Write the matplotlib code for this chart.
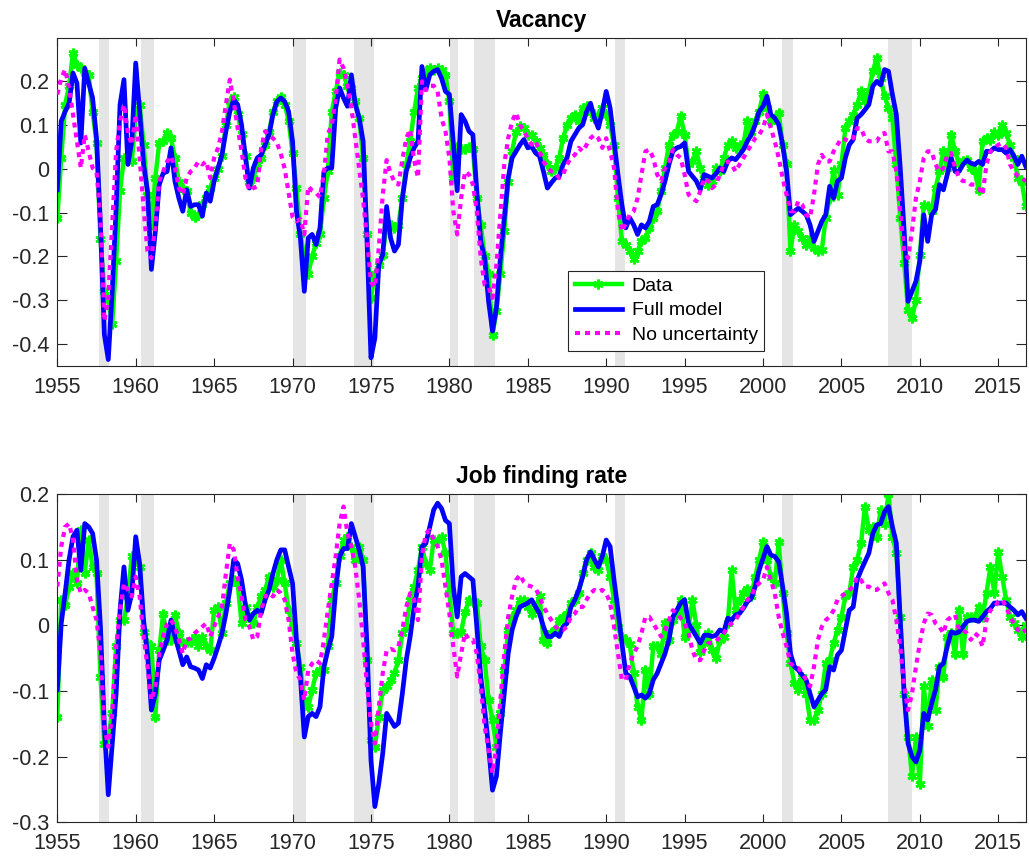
"""Vacancy and job finding rate: data vs model simulations."""
import matplotlib
matplotlib.use("Agg")
import matplotlib.pyplot as plt
import numpy as np

plt.rcParams["font.family"] = ["Liberation Sans", "DejaVu Sans"]
plt.rcParams["axes.unicode_minus"] = False

# quarterly sample, 1955Q1 - 2016Q4
start_year = 1955
n_quarters = 248

# NBER recession bands (decimal years)
recessions = [(1957.68, 1958.30), (1960.34, 1961.15), (1970.0, 1970.88),
              (1973.93, 1975.2), (1980.04, 1980.55), (1981.57, 1982.89),
              (1990.57, 1991.21), (2001.24, 2001.88), (2007.98, 2009.47)]

# ---- Vacancy (one row per year, four quarters) ----
vac_data = [
    -0.112, 0.025, 0.147, 0.19,   # 1955
    0.265, 0.238, 0.23, 0.22,
    0.215, 0.13, 0.06, -0.16,
    -0.28, -0.30, -0.355, -0.21,
    -0.05, 0.025, 0.02, 0.017,
    0.12, 0.147, 0.055, -0.06,    # 1960
    -0.128, -0.02, 0.06, 0.063,
    0.082, 0.07, 0.025, -0.03,
    -0.045, -0.05, -0.10, -0.11,
    -0.105, -0.08, -0.067, -0.044,
    -0.02, 0.0, 0.03, 0.10,       # 1965
    0.155, 0.165, 0.125, 0.08,
    0.03, -0.03, -0.02, 0.01,
    0.025, 0.055, 0.085, 0.13,
    0.155, 0.165, 0.147, 0.11,
    0.036, -0.044, -0.15, -0.20,  # 1970
    -0.24, -0.20, -0.17, -0.15,
    -0.066, -0.005, 0.13, 0.177,
    0.22, 0.215, 0.19, 0.185,
    0.154, 0.116, 0.025, -0.15,
    -0.295, -0.24, -0.22, -0.196,  # 1975
    -0.128, -0.128, -0.135, -0.128,
    -0.067, 0.01, 0.063, 0.13,
    0.185, 0.207, 0.223, 0.23,
    0.227, 0.23, 0.227, 0.215,
    0.154, -0.02, 0.05, 0.045,    # 1980
    0.045, 0.05, 0.045, -0.067,
    -0.128, -0.20, -0.24, -0.38,
    -0.325, -0.24, -0.143, -0.03,
    0.04, 0.085, 0.097, 0.093,
    0.078, 0.078, 0.063, 0.048,   # 1985
    0.032, 0.01, -0.005, 0.002,
    0.025, 0.07, 0.10, 0.116,
    0.124, 0.109, 0.139, 0.143,
    0.131, 0.116, 0.124, 0.139,
    0.124, 0.10, 0.055, -0.067,   # 1990
    -0.166, -0.173, -0.188, -0.207,
    -0.188, -0.166, -0.158, -0.135,
    -0.112, -0.097, -0.051, 0.002,
    0.055, 0.078, 0.085, 0.12,
    0.078, 0.01, 0.017, 0.04,     # 1995
    0.002, -0.02, -0.036, -0.028,
    0.002, -0.006, 0.025, 0.055,
    0.063, 0.048, 0.055, 0.055,
    0.11, 0.085, 0.109, 0.131,
    0.17, 0.139, 0.109, 0.116,    # 2000
    0.128, 0.055, 0.01, -0.188,
    -0.128, -0.143, -0.158, -0.173,
    -0.158, -0.18, -0.188, -0.185,
    -0.112, -0.067, -0.002, -0.06,
    0.01, 0.093, 0.109, 0.124,    # 2005
    0.147, 0.177, 0.154, 0.177,
    0.223, 0.253, 0.207, 0.166,
    0.139, 0.116, 0.01, -0.112,
    -0.215, -0.322, -0.341, -0.30,
    -0.196, -0.082, -0.085, -0.097,  # 2010
    -0.044, -0.006, 0.04, 0.002,
    0.078, 0.04, 0.01, 0.017,
    0.02, 0.002, -0.006, -0.048,
    0.063, 0.07, 0.067, 0.085,
    0.078, 0.10, 0.082, 0.055,    # 2015
    0.025, -0.02, -0.03, -0.086,
]

vac_full = [
    -0.048, 0.109, 0.131, 0.15,   # 1955
    0.219, 0.196, 0.059, 0.23,
    0.196, 0.162, 0.07, -0.128,
    -0.379, -0.436, -0.28, -0.09,
    0.147, 0.204, 0.01, 0.063,
    0.242, 0.131, 0.01, -0.051,   # 1960
    -0.23, -0.143, -0.036, -0.01,
    -0.006, 0.048, -0.028, -0.067,
    -0.097, -0.048, -0.086, -0.082,
    -0.082, -0.108, -0.055, -0.074,
    -0.028, 0.002, 0.032, 0.086,  # 1965
    0.131, 0.158, 0.147, 0.10,
    0.025, -0.044, 0.002, 0.025,
    0.032, 0.055, 0.078, 0.124,
    0.154, 0.162, 0.154, 0.131,
    0.063, -0.097, -0.158, -0.28,  # 1970
    -0.158, -0.15, -0.173, -0.135,
    -0.006, 0.002, 0.002, 0.139,
    0.185, 0.162, 0.143, 0.215,
    0.147, 0.116, 0.063, -0.166,
    -0.432, -0.387, -0.219, -0.196,  # 1975
    -0.086, -0.158, -0.188, -0.173,
    -0.067, -0.006, 0.025, 0.048,
    0.063, 0.234, 0.181, 0.215,
    0.223, 0.227, 0.207, 0.177,
    0.17, 0.06, -0.05, 0.124,     # 1980
    0.109, 0.086, 0.078, -0.051,
    -0.166, -0.204, -0.303, -0.371,
    -0.318, -0.204, -0.112, -0.021,
    0.025, 0.04, 0.055, 0.067,
    0.048, 0.051, 0.036, 0.029,   # 1985
    -0.006, -0.044, -0.032, -0.021,
    -0.017, 0.01, 0.025, 0.063,
    0.078, 0.093, 0.101, 0.131,
    0.15, 0.116, 0.093, 0.131,
    0.177, 0.139, 0.063, -0.013,  # 1990
    -0.082, -0.135, -0.112, -0.128,
    -0.15, -0.128, -0.135, -0.12,
    -0.086, -0.082, -0.059, -0.028,
    0.01, 0.04, 0.048, 0.051,
    0.059, -0.006, -0.017, -0.028,  # 1995
    -0.048, -0.013, -0.017, -0.021,
    -0.011, 0.002, -0.006, 0.017,
    0.025, 0.021, 0.032, 0.044,
    0.063, 0.078, 0.101, 0.131,
    0.143, 0.166, 0.124, 0.116,   # 2000
    0.101, 0.055, -0.006, -0.105,
    -0.097, -0.09, -0.097, -0.105,
    -0.128, -0.166, -0.143, -0.12,
    -0.105, -0.04, -0.067, -0.028,
    -0.021, 0.025, 0.055, 0.067,  # 2005
    0.116, 0.124, 0.135, 0.147,
    0.189, 0.20, 0.192, 0.227,
    0.223, 0.17, 0.124, 0.002,
    -0.143, -0.303, -0.28, -0.257,
    -0.211, -0.105, -0.166, -0.105,  # 2010
    -0.093, -0.036, -0.048, -0.013,
    0.025, -0.006, -0.006, 0.01,
    0.02, 0.013, 0.01, 0.017,
    0.01, 0.04, 0.04, 0.048,
    0.044, 0.044, 0.036, 0.044,   # 2015
    0.029, 0.01, 0.029, 0.006,
]

vac_nounc = [
    0.17, 0.207, 0.227, 0.185,    # 1955
    0.124, 0.063, 0.002, 0.078,
    0.04, 0.002, -0.006, -0.112,
    -0.348, -0.295, -0.128, 0.04,
    0.109, 0.147, 0.082, 0.055,
    0.124, 0.025, -0.09, -0.188,  # 1960
    -0.204, -0.128, -0.028, -0.006,
    0.017, 0.029, 0.002, -0.044,
    -0.059, -0.021, -0.006, 0.002,
    0.017, 0.01, 0.017, -0.021,
    0.025, 0.048, 0.086, 0.147,   # 1965
    0.204, 0.154, 0.093, 0.04,
    -0.021, -0.05, -0.044, -0.04,
    0.048, 0.086, 0.075, 0.07,
    0.06, 0.035, 0.0, -0.055,
    -0.11, -0.12, -0.115, -0.15,  # 1970
    -0.04, -0.05, -0.055, -0.065,
    -0.01, 0.08, 0.10, 0.16,
    0.25, 0.23, 0.19, 0.14,
    0.07, 0.0, -0.07, -0.16,
    -0.26, -0.27, -0.18, -0.06,   # 1975
    0.02, -0.01, -0.03, -0.036,
    0.02, 0.07, 0.09, 0.02,
    -0.02, 0.20, 0.18, 0.19,
    0.19, 0.177, 0.116, 0.086,
    0.025, -0.097, -0.15, -0.067,  # 1980
    -0.006, -0.013, -0.036, -0.097,
    -0.204, -0.265, -0.27, -0.295,
    -0.219, -0.105, 0.01, 0.07,
    0.109, 0.128, 0.101, 0.086,
    0.07, 0.055, 0.063, 0.04,     # 1985
    0.017, 0.002, -0.006, -0.01,
    -0.021, -0.013, 0.01, 0.025,
    0.032, 0.048, 0.04, 0.055,
    0.07, 0.078, 0.07, 0.048,
    0.07, 0.04, 0.002, -0.097,    # 1990
    -0.143, -0.124, -0.105, -0.097,
    -0.067, -0.013, 0.04, 0.044,
    0.025, -0.013, -0.028, 0.002,
    0.017, 0.044, 0.032, 0.025,
    -0.013, -0.059, -0.067, -0.074,  # 1995
    -0.051, -0.021, -0.028, -0.044,
    -0.036, -0.013, 0.01, 0.017,
    0.01, -0.006, 0.01, 0.025,
    0.04, 0.055, 0.07, 0.078,
    0.093, 0.124, 0.093, 0.063,   # 2000
    0.025, -0.021, -0.059, -0.097,
    -0.097, -0.074, -0.082, -0.105,
    -0.112, -0.059, 0.01, 0.032,
    0.017, 0.017, 0.04, 0.055,
    0.07, 0.067, 0.063, 0.07,     # 2005
    0.093, 0.093, 0.07, 0.063,
    0.063, 0.063, 0.078, 0.082,
    0.04, 0.04, -0.006, -0.097,
    -0.188, -0.204, -0.143, -0.067,
    -0.028, 0.025, 0.04, 0.04,    # 2010
    0.01, -0.006, 0.002, 0.032,
    0.036, 0.002, -0.021, -0.028,
    -0.028, -0.036, -0.036, -0.044,
    -0.059, 0.01, 0.04, 0.048,
    0.055, 0.059, 0.048, 0.01,    # 2015
    -0.006, -0.017, -0.021, -0.028,
]

# ---- Job finding rate ----
jf_data = [
    -0.139, 0.039, 0.031, 0.059,  # 1955
    0.079, 0.065, 0.145, 0.08,
    0.13, 0.089, 0.079, -0.078,
    -0.18, -0.17, -0.134, -0.032,
    0.008, 0.008, 0.044, 0.105,
    0.10, 0.089, -0.01, -0.027,   # 1960
    -0.032, -0.139, -0.038, 0.018,
    -0.022, -0.022, 0.016, -0.012,
    -0.027, -0.025, -0.025, -0.017,
    -0.032, -0.017, -0.032, -0.038,
    0.023, 0.028, -0.012, 0.034,  # 1965
    0.064, 0.069, 0.064, 0.003,
    0.028, 0.013, 0.003, 0.028,
    0.044, 0.054, 0.074, 0.059,
    0.069, 0.10, 0.064, 0.023,
    -0.002, -0.027, -0.063, -0.114,  # 1970
    -0.124, -0.098, -0.073, -0.068,
    -0.068, -0.032, 0.039, 0.064,
    0.105, 0.13, 0.135, 0.12,
    0.10, 0.12, 0.10, -0.053,
    -0.175, -0.185, -0.139, -0.098,  # 1975
    -0.093, -0.083, -0.073, -0.053,
    -0.012, -0.002, 0.039, 0.059,
    0.084, 0.12, 0.094, 0.084,
    0.13, 0.13, 0.135, 0.11,
    0.049, -0.012, -0.012, -0.01,  # 1980
    0.02, 0.039, 0.035, 0.034,
    -0.032, -0.053, -0.114, -0.144,
    -0.185, -0.134, -0.068, -0.007,
    0.013, 0.023, 0.039, 0.039,
    0.028, 0.018, 0.028, 0.044,   # 1985
    -0.022, -0.027, -0.012, -0.007,
    0.008, 0.013, 0.018, 0.034,
    0.039, 0.049, 0.079, 0.10,
    0.11, 0.089, 0.084, 0.105,
    0.10, 0.074, 0.039, -0.002,   # 1990
    -0.017, -0.022, -0.028, -0.073,
    -0.124, -0.144, -0.068, -0.104,
    -0.032, -0.032, -0.043, 0.003,
    -0.022, 0.008, 0.02, 0.039,
    -0.017, -0.005, 0.039, 0.0,   # 1995
    -0.04, -0.027, -0.012, -0.037,
    -0.05, -0.022, -0.017, 0.003,
    0.084, 0.023, 0.039, 0.049,
    0.056, 0.044, 0.074, 0.10,
    0.127, 0.10, 0.074, 0.064,    # 2000
    0.127, 0.049, -0.012, -0.058,
    -0.088, -0.098, -0.078, -0.104,
    -0.144, -0.144, -0.129, -0.104,
    -0.058, -0.053, -0.027, -0.007,
    0.013, 0.044, 0.049, 0.089,   # 2005
    0.10, 0.125, 0.181, 0.145,
    0.15, 0.135, 0.176, 0.155,
    0.20, 0.135, 0.11, 0.013,
    -0.104, -0.17, -0.23, -0.17,
    -0.241, -0.093, -0.154, -0.083,  # 2010
    -0.129, -0.063, -0.078, -0.017,
    -0.012, -0.043, 0.023, -0.043,
    0.013, 0.013, 0.013, 0.028,
    0.013, 0.049, 0.089, 0.049,
    0.112, 0.074, 0.039, 0.013,   # 2015
    0.003, -0.007, -0.017, 0.0,
]

jf_full = [
    -0.098, 0.003, 0.049, 0.10,   # 1955
    0.135, 0.145, 0.084, 0.155,
    0.15, 0.14, 0.10, -0.002,
    -0.154, -0.258, -0.18, -0.104,
    0.023, 0.089, 0.023, 0.049,
    0.135, 0.094, 0.008, -0.043,  # 1960
    -0.129, -0.104, -0.053, -0.038,
    -0.022, 0.008, -0.017, -0.038,
    -0.06, -0.048, -0.063, -0.065,
    -0.068, -0.081, -0.06, -0.065,
    -0.05, -0.032, -0.012, 0.018,  # 1965
    0.054, 0.10, 0.094, 0.069,
    0.03, 0.008, 0.018, 0.023,
    0.018, 0.039, 0.054, 0.079,
    0.10, 0.115, 0.115, 0.089,
    0.064, -0.022, -0.078, -0.17,  # 1970
    -0.139, -0.134, -0.139, -0.124,
    -0.063, -0.038, -0.017, 0.054,
    0.105, 0.117, 0.117, 0.155,
    0.135, 0.115, 0.089, -0.032,
    -0.205, -0.276, -0.241, -0.195,  # 1975
    -0.134, -0.144, -0.154, -0.149,
    -0.104, -0.053, -0.017, 0.028,
    0.059, 0.12, 0.125, 0.15,
    0.176, 0.186, 0.178, 0.16,
    0.155, 0.059, 0.013, 0.074,   # 1980
    0.079, 0.074, 0.069, -0.002,
    -0.078, -0.129, -0.185, -0.251,
    -0.23, -0.164, -0.104, -0.043,
    -0.007, 0.013, 0.028, 0.031,
    0.034, 0.039, 0.028, 0.018,   # 1985
    -0.002, -0.017, -0.017, -0.012,
    -0.017, -0.002, 0.003, 0.028,
    0.039, 0.054, 0.074, 0.10,
    0.112, 0.10, 0.089, 0.105,
    0.13, 0.12, 0.069, 0.023,     # 1990
    -0.027, -0.073, -0.078, -0.093,
    -0.109, -0.106, -0.111, -0.104,
    -0.083, -0.073, -0.058, -0.043,
    -0.022, 0.013, 0.023, 0.034,
    0.039, 0.003, -0.007, -0.017,  # 1995
    -0.027, -0.015, -0.015, -0.017,
    -0.015, -0.007, -0.01, 0.011,
    0.008, 0.016, 0.018, 0.026,
    0.036, 0.041, 0.059, 0.084,
    0.102, 0.12, 0.107, 0.105,    # 2000
    0.097, 0.059, 0.018, -0.043,
    -0.063, -0.068, -0.076, -0.083,
    -0.104, -0.124, -0.114, -0.104,
    -0.098, -0.063, -0.068, -0.045,
    -0.038, -0.007, 0.023, 0.028,  # 2005
    0.069, 0.084, 0.097, 0.11,
    0.14, 0.153, 0.155, 0.173,
    0.181, 0.15, 0.125, 0.008,
    -0.104, -0.18, -0.20, -0.208,
    -0.19, -0.134, -0.144, -0.119,  # 2010
    -0.098, -0.063, -0.058, -0.032,
    -0.01, -0.012, -0.01, -0.002,
    0.006, 0.008, 0.008, 0.006,
    0.013, 0.021, 0.026, 0.034,
    0.034, 0.034, 0.034, 0.028,   # 2015
    0.023, 0.016, 0.021, 0.011,
]

jf_nounc = [
    0.059, 0.12, 0.15, 0.155,     # 1955
    0.13, 0.069, 0.049, 0.054,
    0.049, 0.028, 0.008, -0.043,
    -0.154, -0.185, -0.134, -0.032,
    0.023, 0.064, 0.054, 0.044,
    0.074, 0.044, -0.017, -0.063,  # 1960
    -0.114, -0.093, -0.043, -0.017,
    0.003, 0.008, -0.002, -0.022,
    -0.043, -0.022, -0.02, -0.012,
    -0.007, -0.002, 0.003, -0.017,
    -0.002, 0.013, 0.028, 0.079,  # 1965
    0.125, 0.115, 0.074, 0.044,
    0.008, -0.002, -0.022, -0.017,
    0.023, 0.044, 0.049, 0.044,
    0.054, 0.049, 0.039, 0.008,
    -0.043, -0.073, -0.083, -0.114,  # 1970
    -0.068, -0.058, -0.053, -0.058,
    -0.022, 0.023, 0.064, 0.105,
    0.155, 0.181, 0.14, 0.12,
    0.089, 0.039, -0.022, -0.093,
    -0.149, -0.18, -0.124, -0.073,  # 1975
    -0.038, -0.036, -0.038, -0.032,
    -0.007, 0.028, 0.049, 0.039,
    0.008, 0.105, 0.14, 0.145,
    0.13, 0.12, 0.10, 0.059,
    0.018, -0.032, -0.078, -0.043,  # 1980
    -0.012, -0.022, -0.022, -0.043,
    -0.093, -0.154, -0.19, -0.225,
    -0.185, -0.114, -0.043, 0.013,
    0.044, 0.069, 0.077, 0.066,
    0.061, 0.059, 0.056, 0.044,   # 1985
    0.028, 0.018, 0.008, -0.002,
    -0.007, -0.007, -0.002, 0.013,
    0.018, 0.028, 0.028, 0.039,
    0.049, 0.054, 0.051, 0.054,
    0.049, 0.034, -0.002, -0.043,  # 1990
    -0.083, -0.083, -0.058, -0.043,
    -0.032, -0.012, 0.013, 0.013,
    0.003, -0.007, -0.017, -0.007,
    0.008, 0.023, 0.018, 0.011,
    0.003, -0.012, -0.038, -0.053,  # 1995
    -0.053, -0.038, -0.027, -0.027,
    -0.025, -0.017, -0.012, -0.002,
    0.003, 0.008, 0.018, 0.028,
    0.039, 0.044, 0.059, 0.064,
    0.069, 0.089, 0.069, 0.049,   # 2000
    0.013, -0.012, -0.032, -0.058,
    -0.063, -0.065, -0.073, -0.083,
    -0.093, -0.063, -0.022, -0.002,
    0.008, 0.013, 0.023, 0.039,
    0.044, 0.049, 0.054, 0.059,   # 2005
    0.074, 0.069, 0.059, 0.059,
    0.054, 0.054, 0.059, 0.064,
    0.049, 0.039, 0.008, -0.032,
    -0.093, -0.129, -0.104, -0.063,
    -0.027, 0.003, 0.018, 0.016,  # 2010
    0.003, -0.002, -0.012, 0.008,
    0.013, 0.016, -0.007, -0.007,
    -0.012, -0.022, -0.012, -0.017,
    -0.032, 0.008, 0.023, 0.028,
    0.036, 0.039, 0.028, 0.013,   # 2015
    0.003, -0.007, -0.012, -0.007,
]

t = start_year + np.arange(n_quarters) / 4.0
axis_col = "#262626"


def draw_panel(ax, data, full, nounc, title, ylim, yticks):
    for a, b in recessions:
        ax.axvspan(a, b, color="#e5e5e5", lw=0, zorder=0)
    ax.plot(t, data, color="#00ff00", lw=3.2, marker=(6, 2, 0), ms=7,
            mew=2.0, label="Data", zorder=2)
    ax.plot(t, full, color="#0000ff", lw=3.4, label="Full model", zorder=3)
    ax.plot(t, nounc, color="#ff00ff", lw=3.0, ls=(0, (1.2, 1.2)),
            label="No uncertainty", zorder=4)
    ax.set_xlim(1955, 2016.75)
    ax.set_ylim(*ylim)
    ax.set_xticks(np.arange(1955, 2016, 5))
    ax.set_yticks(yticks)
    ax.set_yticklabels(["%g" % round(v, 2) for v in yticks])
    ax.tick_params(direction="in", top=True, right=True, labelsize=15.5,
                   colors=axis_col, width=0.8)
    ax.tick_params(axis="x", length=5.5, pad=8)
    ax.tick_params(axis="y", length=7, pad=6)
    for s in ax.spines.values():
        s.set_color(axis_col)
        s.set_linewidth(0.8)
    ax.set_title(title, fontsize=16.5, fontweight="bold", pad=8)


fig = plt.figure(figsize=(10.29, 8.61), dpi=100)
ax1 = fig.add_axes([0.0557, 0.5753, 0.9411, 0.381])
ax2 = fig.add_axes([0.0557, 0.0449, 0.9411, 0.3813])

draw_panel(ax1, vac_data, vac_full, vac_nounc, "Vacancy", (-0.45, 0.3),
           [-0.4, -0.3, -0.2, -0.1, 0, 0.1, 0.2])
draw_panel(ax2, jf_data, jf_full, jf_nounc, "Job finding rate", (-0.3, 0.2),
           [-0.3, -0.2, -0.1, 0, 0.1, 0.2])

leg = ax1.legend(loc="lower left", bbox_to_anchor=(0.5277, 0.0457),
                 borderaxespad=0, fontsize=14, fancybox=False,
                 edgecolor="#262626", framealpha=1, handlelength=2.4,
                 labelspacing=0.35, borderpad=0.35, handletextpad=0.5)
leg.get_frame().set_linewidth(0.8)

fig.savefig("out.png", dpi=100)
